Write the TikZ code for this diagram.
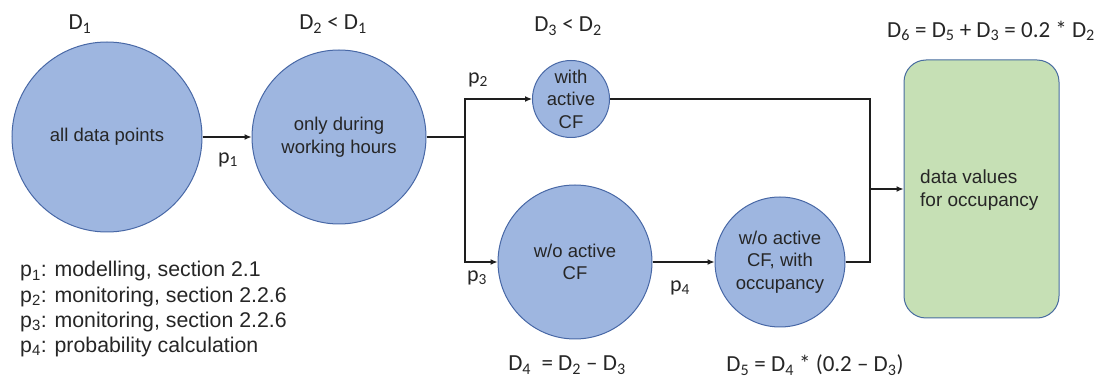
\documentclass[tikz,border=0pt]{standalone}
\usepackage{fontspec}
\setmainfont{Liberation Sans}
\newfontfamily\calib{Carlito}
\usetikzlibrary{arrows.meta}
\definecolor{cfill}{RGB}{158,182,224}
\definecolor{cdraw}{RGB}{72,104,166}
\definecolor{gfill}{RGB}{198,224,181}
\definecolor{gdraw}{RGB}{72,108,160}
\definecolor{lcol}{RGB}{30,30,30}
\newcommand\mysub[1]{\textsubscript{#1}}
\tikzset{
  dcirc/.style={circle, fill=cfill, draw=cdraw, line width=1pt, inner sep=0pt, align=center,
    font=\fontsize{18.5}{22.5}\selectfont, text=black!85},
  gbox/.style={rectangle, rounded corners=22pt, fill=gfill, draw=gdraw, line width=1pt,
    minimum width=155pt, minimum height=258pt},
  conn/.style={draw=lcol, line width=1.2pt},
  arr/.style={conn, -{Latex[length=7pt,width=6pt]}},
  dlab/.style={font=\calib\fontsize{23}{26}\selectfont, text=black!85, inner sep=0pt},
  plab/.style={font=\calib\fontsize{22}{25}\selectfont, text=black!85, inner sep=0pt},
  leg/.style={font=\fontsize{21.3}{24}\selectfont, text=black!85, inner sep=0pt, anchor=base west}
}
\begin{document}
\begin{tikzpicture}[x=1pt, y=-1pt]
\useasboundingbox (0,0) rectangle (1101,379);
% circles
\node[dcirc, minimum size=190pt] (c1) at (107,137) {all data points};
\node[dcirc, minimum size=174pt] (c2) at (339,137) {only during\\working hours};
\node[dcirc, minimum size=77pt] (c3) at (571,99) {with\\active\\CF};
\node[dcirc, minimum size=154pt] (c4) at (575,262) {w/o active\\CF};
\node[dcirc, minimum size=130pt] (c5) at (780,262) {w/o active\\CF, with\\occupancy};
\node[gbox] (box) at (981.5,189) {};
\node[font=\fontsize{19}{22.5}\selectfont, text=black!85, align=left, anchor=west, inner sep=0pt] (boxtxt) at (920,190) {data values\\for occupancy};
% junctions
\coordinate (j1) at (465,137);
\coordinate (j2) at (870,189);
% connectors
\draw[arr] (c1.east) -- (c2.west);
\draw[conn] (c2.east) -- (j1);
\draw[arr] (j1) |- (c3.west);
\draw[arr] (j1) |- (c4.west);
\draw[arr] (c4.east) -- (c5.west);
\draw[conn] (c3.east) -| (j2);
\draw[conn] (c5.east) -| (j2);
\draw[arr] (j2) -- (box.west);
% D labels
\node[dlab] (d1) at (80,24) {D\mysub{1}};
\node[dlab] (d2) at (333,24) {D\mysub{2} < D\mysub{1}};
\node[dlab] (d3) at (568,26) {D\mysub{3} < D\mysub{2}};
\node[dlab] (d6) at (991,31) {D\mysub{6} = D\mysub{5} + D\mysub{3} = 0.2 * D\mysub{2}};
\node[dlab] (d4) at (567,365) {D\mysub{4} \ = D\mysub{2} – D\mysub{3}};
\node[dlab] (d5) at (815,365) {D\mysub{5} = D\mysub{4} * (0.2 – D\mysub{3})};
% p labels
\node[plab] (p1) at (228,160) {p\mysub{1}};
\node[plab] (p2) at (478,80) {p\mysub{2}};
\node[plab] (p3) at (477,278) {p\mysub{3}};
\node[plab] (p4) at (680,288) {p\mysub{4}};
% legend
\node[leg] (l1) at (20,277) {p\mysub{1}: modelling, section 2.1};
\node[leg] (l2) at (20,302.5) {p\mysub{2}: monitoring, section 2.2.6};
\node[leg] (l3) at (20,327.5) {p\mysub{3}: monitoring, section 2.2.6};
\node[leg] (l4) at (20,352.5) {p\mysub{4}: probability calculation};
\end{tikzpicture}
\end{document}
